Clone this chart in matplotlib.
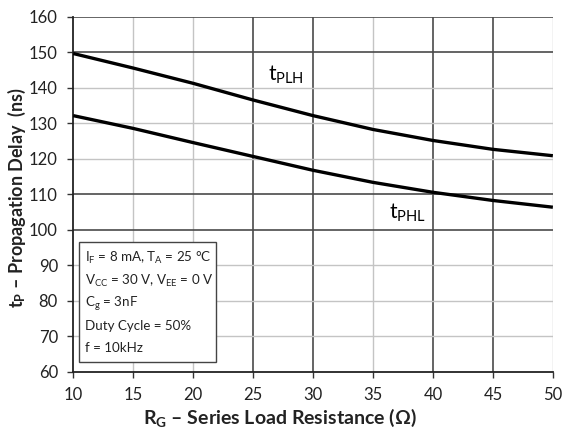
import numpy as np
import matplotlib
matplotlib.use('Agg')
import matplotlib.pyplot as plt

plt.rcParams['font.family'] = ['Lato', 'DejaVu Sans']
plt.rcParams['mathtext.fontset'] = 'custom'
plt.rcParams['mathtext.rm'] = 'Lato'
plt.rcParams['mathtext.it'] = 'Lato:italic'
plt.rcParams['mathtext.bf'] = 'Lato:bold'

# Series load resistance (ohm) and propagation delays (ns)
rg = [10, 15, 20, 25, 30, 35, 40, 45, 50]
t_plh = [149.7, 145.6, 141.3, 136.6, 132.2, 128.3, 125.2, 122.7, 120.9]
t_phl = [132.2, 128.6, 124.6, 120.7, 116.8, 113.4, 110.6, 108.3, 106.4]

xticks = [10, 15, 20, 25, 30, 35, 40, 45, 50]
yticks = [60, 70, 80, 90, 100, 110, 120, 130, 140, 150, 160]

# grid lines come out either dark or faint
xgrid_dark = [25, 30, 40, 45]
ygrid_dark = [100, 110, 150, 160]

conditions = [
    'I$_\\mathrm{F}$ = 8 mA, T$_\\mathrm{A}$ = 25 °C',
    'V$_\\mathrm{CC}$ = 30 V, V$_\\mathrm{EE}$ = 0 V',
    'C$_\\mathrm{g}$ = 3nF',
    'Duty Cycle = 50%',
    'f = 10kHz',
]
cond_y = [92.1, 85.6, 79.3, 72.9, 66.8]

fig = plt.figure(figsize=(5.63, 4.34), dpi=100)
ax = fig.add_axes([0.130, 0.143, 0.852, 0.818])

for x in xticks[1:]:
    dark = x in xgrid_dark
    ax.axvline(x, color='#4a4a4a' if dark else '#c4c4c4', lw=1.2 if dark else 1.0, zorder=1)
for y in yticks[1:]:
    dark = y in ygrid_dark
    ax.axhline(y, color='#4a4a4a' if dark else '#c4c4c4', lw=1.2 if dark else 1.0, zorder=1)

ax.plot(rg, t_plh, color='black', lw=2.4, zorder=3, solid_capstyle='butt')
ax.plot(rg, t_phl, color='black', lw=2.4, zorder=3, solid_capstyle='butt')

ax.text(27.7, 143.6, 't$_\\mathrm{PLH}$', fontsize=15, ha='center', va='center', zorder=4)
ax.text(37.9, 104.8, 't$_\\mathrm{PHL}$', fontsize=15, ha='center', va='center', zorder=4)

ax.set_xlim(10, 50)
ax.set_ylim(60, 160)
ax.set_xticks(xticks)
ax.set_yticks(yticks)
ax.tick_params(direction='out', length=4, width=1, color='#333333',
               labelsize=12, labelcolor='#222222')
ax.tick_params(axis='x', pad=7)
ax.tick_params(axis='y', pad=7)

for side in ['top', 'right']:
    ax.spines[side].set_visible(False)
ax.spines['left'].set_color('#222222')
ax.spines['bottom'].set_color('#222222')
ax.spines['left'].set_linewidth(1.3)
ax.spines['bottom'].set_linewidth(1.3)

# conditions box
ax.add_patch(plt.Rectangle((10.45, 62.8), 11.45, 33.8, facecolor='white',
                           edgecolor='#444444', lw=1.0, zorder=4))
for s, y in zip(conditions, cond_y):
    ax.text(11.0, y, s, fontsize=9.6, ha='left', va='center', color='#222222', zorder=5)

ax.set_xlabel('R$_\\mathbf{G}$ – Series Load Resistance (Ω)', fontsize=14,
              fontweight='bold', color='#222222', va='center')
ax.xaxis.set_label_coords(0.43, -0.13)
ax.set_ylabel('t$_\\mathbf{P}$ – Propagation Delay  (ns)', fontsize=13,
              fontweight='bold', color='#222222', va='center')
ax.yaxis.set_label_coords(-0.118, 0.49)

fig.savefig('out.png', dpi=100)
